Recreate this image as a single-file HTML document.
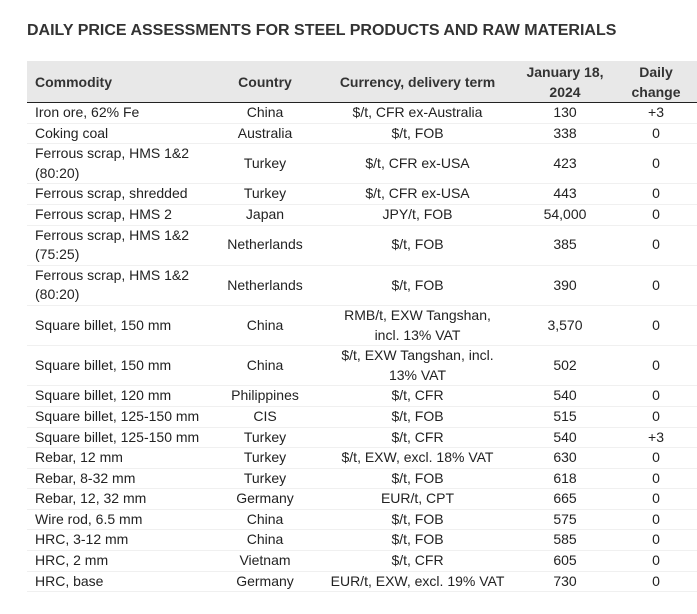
<!DOCTYPE html>
<html><head><meta charset="utf-8"><style>
body{margin:0;width:697px;height:614px;background:#fff;font-family:"Liberation Sans",sans-serif;color:#222;overflow:hidden;position:relative}
h1{position:absolute;left:27px;top:22px;margin:0;font-size:16px;font-weight:bold;color:#333;white-space:nowrap}
table{position:absolute;left:27px;top:61px;width:670px;border-collapse:collapse;table-layout:fixed;font-size:14px}
th{background:#e8e8e8;font-weight:bold;height:41px;line-height:20px;padding:0;border-bottom:1.5px solid #222;color:#333}
td{padding:0;line-height:19.6px;border-bottom:1px solid #f0f0f0;text-align:center;vertical-align:middle}
td:first-child,th:first-child{text-align:left;padding-left:8px}
th{text-align:center}
</style></head><body>
<h1>DAILY PRICE ASSESSMENTS FOR STEEL PRODUCTS AND RAW MATERIALS</h1>
<table>
<colgroup><col style="width:183px"><col style="width:110px"><col style="width:195px"><col style="width:100px"><col style="width:82px"></colgroup>
<tr><th>Commodity</th><th>Country</th><th>Currency, delivery term</th><th>January 18,<br>2024</th><th>Daily<br>change</th></tr>
<tr><td>Iron ore, 62% Fe</td><td>China</td><td>$/t, CFR ex-Australia</td><td>130</td><td>+3</td></tr>
<tr><td>Coking coal</td><td>Australia</td><td>$/t, FOB</td><td>338</td><td>0</td></tr>
<tr><td>Ferrous scrap, HMS 1&amp;2<br>(80:20)</td><td>Turkey</td><td>$/t, CFR ex-USA</td><td>423</td><td>0</td></tr>
<tr><td>Ferrous scrap, shredded</td><td>Turkey</td><td>$/t, CFR ex-USA</td><td>443</td><td>0</td></tr>
<tr><td>Ferrous scrap, HMS 2</td><td>Japan</td><td>JPY/t, FOB</td><td>54,000</td><td>0</td></tr>
<tr><td>Ferrous scrap, HMS 1&amp;2<br>(75:25)</td><td>Netherlands</td><td>$/t, FOB</td><td>385</td><td>0</td></tr>
<tr><td>Ferrous scrap, HMS 1&amp;2<br>(80:20)</td><td>Netherlands</td><td>$/t, FOB</td><td>390</td><td>0</td></tr>
<tr><td>Square billet, 150 mm</td><td>China</td><td>RMB/t, EXW Tangshan,<br>incl. 13% VAT</td><td>3,570</td><td>0</td></tr>
<tr><td>Square billet, 150 mm</td><td>China</td><td>$/t, EXW Tangshan, incl.<br>13% VAT</td><td>502</td><td>0</td></tr>
<tr><td>Square billet, 120 mm</td><td>Philippines</td><td>$/t, CFR</td><td>540</td><td>0</td></tr>
<tr><td>Square billet, 125-150 mm</td><td>CIS</td><td>$/t, FOB</td><td>515</td><td>0</td></tr>
<tr><td>Square billet, 125-150 mm</td><td>Turkey</td><td>$/t, CFR</td><td>540</td><td>+3</td></tr>
<tr><td>Rebar, 12 mm</td><td>Turkey</td><td>$/t, EXW, excl. 18% VAT</td><td>630</td><td>0</td></tr>
<tr><td>Rebar, 8-32 mm</td><td>Turkey</td><td>$/t, FOB</td><td>618</td><td>0</td></tr>
<tr><td>Rebar, 12, 32 mm</td><td>Germany</td><td>EUR/t, CPT</td><td>665</td><td>0</td></tr>
<tr><td>Wire rod, 6.5 mm</td><td>China</td><td>$/t, FOB</td><td>575</td><td>0</td></tr>
<tr><td>HRC, 3-12 mm</td><td>China</td><td>$/t, FOB</td><td>585</td><td>0</td></tr>
<tr><td>HRC, 2 mm</td><td>Vietnam</td><td>$/t, CFR</td><td>605</td><td>0</td></tr>
<tr><td>HRC, base</td><td>Germany</td><td>EUR/t, EXW, excl. 19% VAT</td><td>730</td><td>0</td></tr>
</table>
</body></html>
